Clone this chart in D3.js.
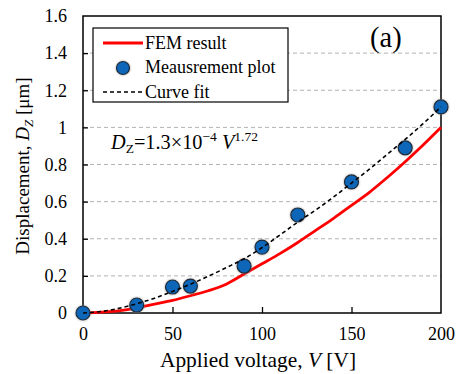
<!doctype html>
<html lang="en">
<head>
  <meta charset="utf-8">
  <script src="https://d3js.org/d3.v7.min.js"></script>
  <style>
    body { margin: 0; background: #fff; }
    text { font-family: "Liberation Serif", "Times New Roman", serif; fill: #000; }
  </style>
</head>
<body>
  <script>
    // data
    var measV = [0, 30, 50, 60, 90, 100, 120, 150, 180, 200];
    var measD = [0, 0.043, 0.14, 0.145, 0.253, 0.355, 0.528, 0.706, 0.89, 1.11];

    var lineV = [0, 10, 20, 30, 40, 50, 60, 70, 80, 90, 100, 110, 120, 130, 140, 150, 160, 170, 180, 190, 200];
    var femD  = [0, 0.005, 0.012, 0.028, 0.048, 0.068, 0.093, 0.12, 0.155, 0.21, 0.265, 0.32, 0.38, 0.445, 0.51, 0.58, 0.65, 0.73, 0.815, 0.905, 1.0];
    var fitD  = [0, 0.008, 0.025, 0.05, 0.08, 0.116, 0.155, 0.198, 0.244, 0.292, 0.352, 0.42, 0.49, 0.555, 0.625, 0.70, 0.775, 0.855, 0.935, 1.02, 1.11];

    var xTicks = [0, 50, 100, 150, 200];
    var yTicks = [0, 0.2, 0.4, 0.6, 0.8, 1, 1.2, 1.4, 1.6];

    var width = 456, height = 374;
    var pLeft = 83, pRight = 441, pTop = 16, pBottom = 313;

    var svg = d3.select("body").append("svg")
        .attr("width", width)
        .attr("height", height);

    var x = d3.scaleLinear().domain([0, 200]).range([pLeft, pRight]);
    var y = d3.scaleLinear().domain([0, 1.6]).range([pBottom, pTop]);

    // dashed grid
    svg.append("g").selectAll("line")
        .data(yTicks.filter(function(d){ return d > 0 && d < 1.6; }))
      .enter().append("line")
        .attr("x1", pLeft).attr("x2", pRight)
        .attr("y1", function(d){ return y(d); })
        .attr("y2", function(d){ return y(d); })
        .style("stroke", "#b3b3b3")
        .style("stroke-width", 1)
        .style("stroke-dasharray", "4,3");

    // axes (ticks inward)
    var xAxis = svg.append("g")
        .attr("transform", "translate(0," + pBottom + ")")
        .call(d3.axisBottom(x).tickValues(xTicks).tickSize(-6).tickPadding(14).tickFormat(d3.format("d")));
    var yAxis = svg.append("g")
        .attr("transform", "translate(" + pLeft + ",0)")
        .call(d3.axisLeft(y).tickValues(yTicks).tickSize(-5).tickPadding(16).tickFormat(function(d){ return d3.format("~g")(d); }));

    [xAxis, yAxis].forEach(function(a){
      a.select(".domain").remove();
      a.selectAll("line").style("stroke", "#000").style("stroke-width", 1.3);
      a.selectAll("text").style("font-family", "Liberation Serif").style("font-size", "18px").style("fill", "#000");
    });
    xAxis.selectAll(".tick").filter(function(d){ return d === 0 || d === 200; }).select("line").remove();
    yAxis.selectAll(".tick").filter(function(d){ return d === 0 || d === 1.6; }).select("line").remove();

    // frame
    svg.append("rect")
        .attr("x", pLeft).attr("y", pTop)
        .attr("width", pRight - pLeft).attr("height", pBottom - pTop)
        .style("fill", "none").style("stroke", "#000").style("stroke-width", 1.5);

    var line = d3.line()
        .x(function(d){ return x(d[0]); })
        .y(function(d){ return y(d[1]); })
        .curve(d3.curveMonotoneX);

    svg.append("path")
        .datum(lineV.map(function(v, i){ return [v, femD[i]]; }))
        .attr("d", line)
        .style("fill", "none").style("stroke", "#ff0000").style("stroke-width", 2.8);

    // soft halo behind markers
    var defs = svg.append("defs");
    var f = defs.append("filter").attr("id", "halo").attr("x", "-50%").attr("y", "-50%").attr("width", "200%").attr("height", "200%");
    f.append("feGaussianBlur").attr("in", "SourceAlpha").attr("stdDeviation", 1.2).attr("result", "b");
    f.append("feFlood").attr("flood-color", "#888").attr("flood-opacity", 0.8);
    f.append("feComposite").attr("in2", "b").attr("operator", "in").attr("result", "s");
    var m = f.append("feMerge");
    m.append("feMergeNode").attr("in", "s");
    m.append("feMergeNode").attr("in", "SourceGraphic");

    svg.append("g").selectAll("circle")
        .data(measV.map(function(v, i){ return [v, measD[i]]; }))
      .enter().append("circle")
        .attr("cx", function(d){ return x(d[0]); })
        .attr("cy", function(d){ return y(d[1]); })
        .attr("r", 7)
        .attr("filter", "url(#halo)")
        .style("fill", "#0a66b8")
        .style("stroke", "#1a2a3a")
        .style("stroke-width", 1.2);

    svg.append("path")
        .datum(lineV.map(function(v, i){ return [v, fitD[i]]; }))
        .attr("d", line)
        .style("fill", "none").style("stroke", "#000").style("stroke-width", 1.6)
        .style("stroke-dasharray", "4,3");

    // legend
    var lg = svg.append("g");
    lg.append("rect")
        .attr("x", 93).attr("y", 28).attr("width", 195).attr("height", 74)
        .style("fill", "#fff").style("stroke", "#000").style("stroke-width", 1.2);
    lg.append("line").attr("x1", 103).attr("x2", 143).attr("y1", 43).attr("y2", 43)
        .style("stroke", "#ff0000").style("stroke-width", 2.8);
    lg.append("circle").attr("cx", 123).attr("cy", 68).attr("r", 6.5)
        .attr("filter", "url(#halo)")
        .style("fill", "#0a66b8").style("stroke", "#1a2a3a").style("stroke-width", 1.2);
    lg.append("line").attr("x1", 103).attr("x2", 143).attr("y1", 92).attr("y2", 92)
        .style("stroke", "#000").style("stroke-width", 1.6).style("stroke-dasharray", "4,3");
    var legNames = ["FEM result", "Meausrement plot", "Curve fit"];
    lg.selectAll("text.leg").data(legNames).enter().append("text")
        .attr("class", "leg")
        .attr("x", 145)
        .attr("y", function(d, i){ return 48.5 + i * 24.8; })
        .style("font-size", "18px")
        .text(function(d){ return d; });

    // panel label
    svg.append("text").attr("x", 370).attr("y", 47).style("font-size", "28.5px").text("(a)");

    // equation
    var eq = svg.append("text").attr("x", 111).attr("y", 149).style("font-size", "20.3px");
    eq.append("tspan").style("font-style", "italic").text("D");
    eq.append("tspan").attr("dy", 4).style("font-size", "13.5px").text("Z");
    eq.append("tspan").attr("dy", -4).text("=1.3×10");
    eq.append("tspan").attr("dy", -8).style("font-size", "13.5px").text("−4");
    eq.append("tspan").attr("dy", 8).text(" ");
    eq.append("tspan").style("font-style", "italic").text("V");
    eq.append("tspan").attr("dy", -8).style("font-size", "13.5px").text("1.72");

    // axis titles
    var xt = svg.append("text").attr("x", 258).attr("y", 367)
        .attr("text-anchor", "middle").style("font-size", "21.4px");
    xt.append("tspan").text("Applied voltage, ");
    xt.append("tspan").style("font-style", "italic").text("V");
    xt.append("tspan").text(" [V]");

    var yt = svg.append("text")
        .attr("transform", "translate(29," + 166 + ") rotate(-90)")
        .attr("text-anchor", "middle").style("font-size", "19px");
    yt.append("tspan").text("Displacement, ");
    yt.append("tspan").style("font-style", "italic").text("D");
    yt.append("tspan").attr("dy", 4).style("font-size", "13px").style("font-style", "italic").text("Z");
    yt.append("tspan").attr("dy", -4).text(" [μm]");
  </script>
</body>
</html>
